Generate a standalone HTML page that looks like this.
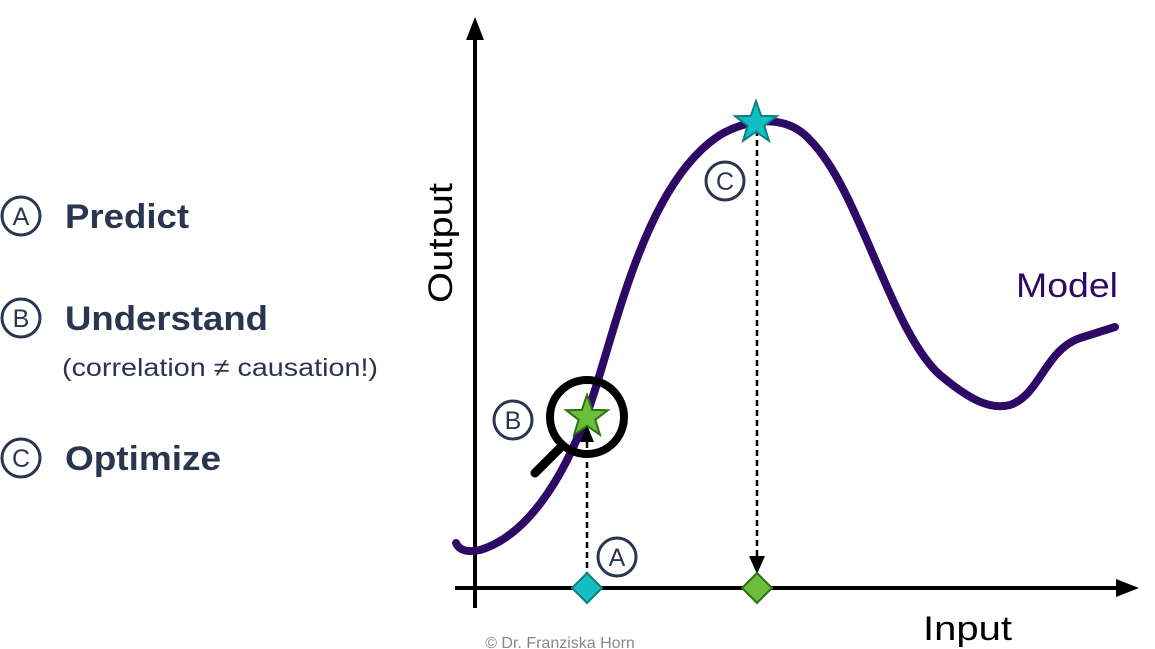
<!DOCTYPE html>
<html><head><meta charset="utf-8"><style>
html,body{margin:0;padding:0;background:#fff;}
svg{display:block;}
</style></head><body>
<svg width="1155" height="649" viewBox="0 0 1155 649" xmlns="http://www.w3.org/2000/svg" font-family="Liberation Sans, DejaVu Sans, sans-serif">
<defs>
<polygon id="star" points="0,-1 0.235,-0.324 0.951,-0.309 0.380,0.124 0.588,0.809 0,0.4 -0.588,0.809 -0.380,0.124 -0.951,-0.309 -0.235,-0.324"/>
</defs>
<!-- left list -->
<g fill="none" stroke="#2a3550" stroke-width="3">
<circle cx="21" cy="216" r="19"/><circle cx="21" cy="318" r="19"/><circle cx="21" cy="458" r="19"/>
<circle cx="725" cy="181" r="19"/><circle cx="513" cy="420" r="19"/><circle cx="617" cy="557" r="19"/>
</g>
<g fill="#2a3550" font-size="25" text-anchor="middle">
<text x="21" y="225">A</text><text x="21" y="327">B</text><text x="21" y="467">C</text>
<text x="725" y="190">C</text><text x="513" y="429">B</text><text x="617" y="566">A</text>
</g>
<g fill="#2a3550" font-size="34" font-weight="bold">
<text x="65" y="228" textLength="124" lengthAdjust="spacingAndGlyphs">Predict</text>
<text x="65" y="330" textLength="203" lengthAdjust="spacingAndGlyphs">Understand</text>
<text x="65" y="470" textLength="156" lengthAdjust="spacingAndGlyphs">Optimize</text>
</g>
<text x="62" y="376" fill="#2a3550" font-size="25" textLength="316" lengthAdjust="spacingAndGlyphs">(correlation ≠ causation!)</text>
<!-- axes -->
<line x1="475" y1="608" x2="475" y2="38" stroke="#000" stroke-width="4"/>
<polygon points="475,17 466,40 484,40" fill="#000"/>
<line x1="455" y1="588" x2="1118" y2="588" stroke="#000" stroke-width="4"/>
<polygon points="1139,588 1116,579 1116,597" fill="#000"/>
<text transform="translate(452,243) rotate(-90)" text-anchor="middle" font-size="34" fill="#000" textLength="120" lengthAdjust="spacingAndGlyphs">Output</text>
<text x="923" y="640" font-size="34" fill="#000" textLength="89" lengthAdjust="spacingAndGlyphs">Input</text>
<text x="1016" y="297" font-size="34" fill="#2e0a66" textLength="102" lengthAdjust="spacingAndGlyphs">Model</text>
<text x="560" y="648" font-size="16" fill="#888" text-anchor="middle">© Dr. Franziska Horn</text>
<!-- curve -->
<path d="M456,543 C460,552 470,552 480,550 C530,535 570,470 595,390 C620,310 650,180 720,135 C745,120 785,112 810,140 C860,190 890,330 940,375 C970,400 990,410 1010,405 C1040,395 1045,350 1080,338 L1115,327" fill="none" stroke="#2e0a66" stroke-width="8" stroke-linecap="round"/>
<!-- dashed -->
<line x1="587" y1="578" x2="587" y2="440" stroke="#000" stroke-width="2.5" stroke-dasharray="6,4"/>
<polygon points="587,425 580,442 594,442" fill="#000"/>
<line x1="757" y1="130" x2="757" y2="556" stroke="#000" stroke-width="2.5" stroke-dasharray="6,4"/>
<polygon points="757,574 749,556 765,556" fill="#000"/>
<!-- diamonds -->
<polygon points="587,573 602,588 587,603 572,588" fill="#13bfc0" stroke="#0e7f80" stroke-width="2"/>
<polygon points="757,573 772,588 757,603 742,588" fill="#6abf3a" stroke="#2f6e14" stroke-width="2"/>
<!-- magnifier -->
<line x1="535" y1="473" x2="560" y2="448" stroke="#000" stroke-width="9" stroke-linecap="round"/>
<circle cx="587" cy="417" r="37" fill="none" stroke="#000" stroke-width="8"/>
<use href="#star" transform="translate(587,417) scale(22)" fill="#6abf3a" stroke="#2f6e14" stroke-width="0.09"/>
<use href="#star" transform="translate(756,123) scale(22)" fill="#13bfc0" stroke="#0e7f80" stroke-width="0.09"/>
</svg>
</body></html>
